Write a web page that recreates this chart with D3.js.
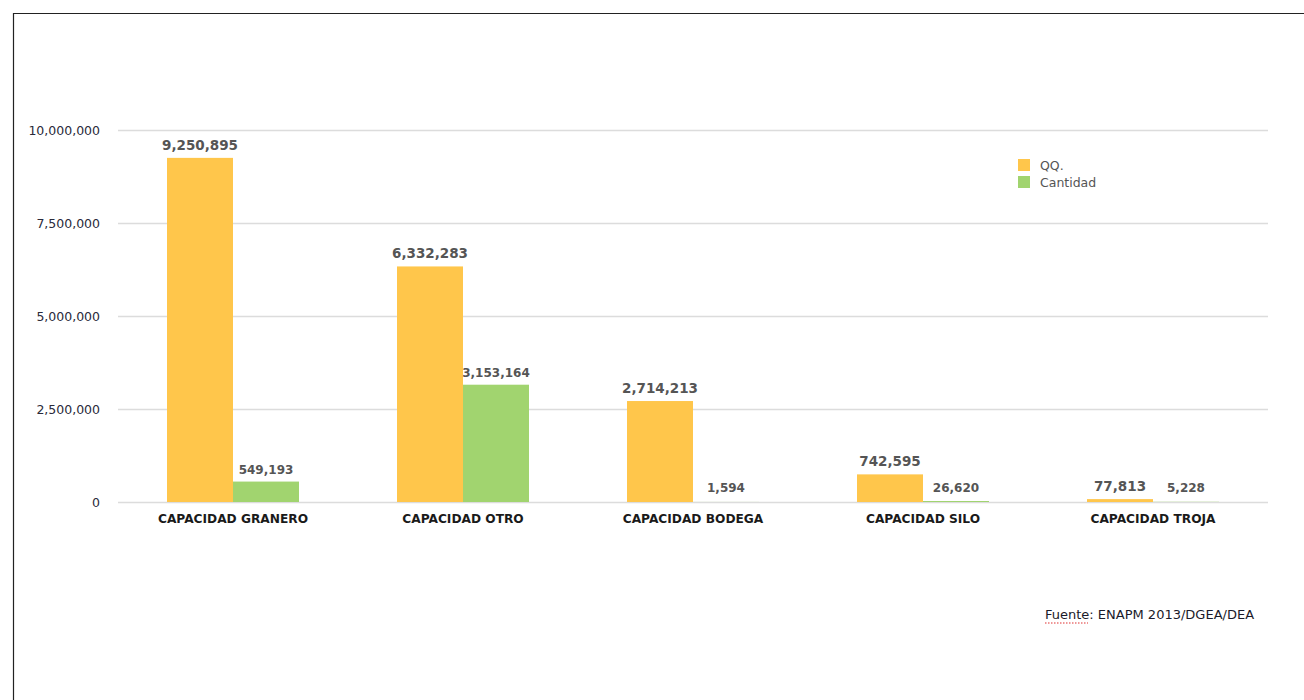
<!DOCTYPE html>
<html><head><meta charset="utf-8">
<script src="https://cdn.jsdelivr.net/npm/d3@7"></script>
<style>
body{margin:0;background:#fff;}
svg{display:block;font-family:"DejaVu Sans",sans-serif;}
</style></head>
<body><svg id="c" width="1304" height="700"></svg>
<script>
const categories = ["CAPACIDAD GRANERO","CAPACIDAD OTRO","CAPACIDAD BODEGA","CAPACIDAD SILO","CAPACIDAD TROJA"];
const seriesNames = ["QQ.","Cantidad"];
const qqValues = [9250895, 6332283, 2714213, 742595, 77813];
const cantidadValues = [549193, 3153164, 1594, 26620, 5228];
const yTicks = [0, 2500000, 5000000, 7500000, 10000000];
const colors = ["#FFC64B", "#A1D46F"];
const source = "Fuente: ENAPM 2013/DGEA/DEA";

const svg = d3.select("#c");
// frame
svg.append("path").attr("d","M13.5,700 V13.5 H1304").attr("fill","none").attr("stroke","#222").attr("stroke-width",1.2);

const x0 = 118, x1 = 1268, yTop = 130, yBot = 502;
const x = d3.scaleBand().domain(categories).range([x0, x1]).paddingInner(0).paddingOuter(0);
const y = d3.scaleLinear().domain([0, 10000000]).range([yBot, yTop]);
const xs = d3.scaleBand().domain(seriesNames).range([0, 132]);
const fmt = d3.format(",");

// grid
svg.append("g").selectAll("line").data(yTicks).join("line")
  .attr("x1", x0).attr("x2", x1)
  .attr("y1", d => Math.round(y(d)) + 0.5).attr("y2", d => Math.round(y(d)) + 0.5)
  .attr("stroke", "#dcdcdc").attr("stroke-width", 1.5);

// y labels
svg.append("g").selectAll("text").data(yTicks).join("text")
  .attr("x", 100).attr("y", d => y(d) + 5)
  .attr("text-anchor", "end").attr("font-size", 12.5).attr("fill", "#2a2a3a")
  .text(d => fmt(d));

const data = [qqValues, cantidadValues];
data.forEach((vals, si) => {
  const g = svg.append("g");
  g.selectAll("rect").data(vals).join("rect")
    .attr("x", (d, i) => x(categories[i]) + x.bandwidth()/2 - 66 + xs(seriesNames[si]))
    .attr("width", xs.bandwidth())
    .attr("y", d => y(d))
    .attr("height", d => yBot - y(d))
    .attr("fill", colors[si]);
  g.selectAll("text").data(vals).join("text")
    .attr("x", (d, i) => x(categories[i]) + x.bandwidth()/2 - 66 + xs(seriesNames[si]) + xs.bandwidth()/2)
    .attr("y", d => Math.min(y(d), yBot - 2) - 8)
    .attr("text-anchor", "middle")
    .attr("font-size", si === 0 ? 13.5 : 12)
    .attr("font-weight", "bold")
    .attr("fill", "#555")
    .text(d => fmt(d));
});

// category labels
svg.append("g").selectAll("text").data(categories).join("text")
  .attr("x", d => x(d) + x.bandwidth()/2).attr("y", 523)
  .attr("text-anchor", "middle").attr("font-size", 12.2).attr("font-weight", "bold").attr("fill", "#1a1a1a")
  .text(d => d);

// legend
const lg = svg.append("g");
seriesNames.forEach((s, i) => {
  lg.append("rect").attr("x", 1018).attr("y", 159 + i*17).attr("width", 12).attr("height", 12).attr("fill", colors[i]);
  lg.append("text").attr("x", 1040).attr("y", 170 + i*17).attr("font-size", 12.5).attr("fill", "#555").text(s);
});

// source
svg.append("text").attr("x", 1045).attr("y", 619).attr("font-size", 13).attr("fill", "#1a1a2a").text(source);
svg.append("line").attr("x1", 1045).attr("x2", 1088).attr("y1", 623).attr("y2", 623)
  .attr("stroke", "#e03030").attr("stroke-width", 1.2).attr("stroke-dasharray", "1.5,1.5");
</script></body></html>
